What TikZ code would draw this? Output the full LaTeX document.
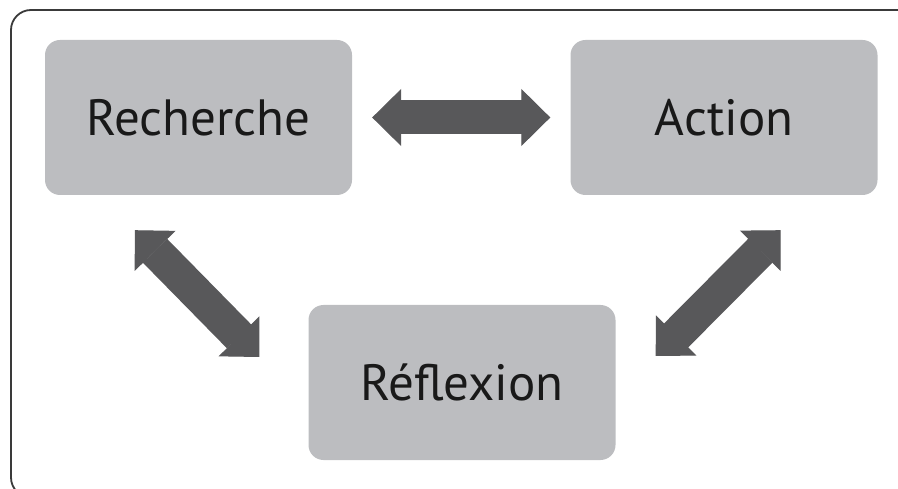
\documentclass[tikz,border=0pt]{standalone}
\usepackage{fontspec}
\setmainfont{PT Sans}
\usepackage{xcolor}
\usetikzlibrary{arrows.meta,calc}

\definecolor{boxgray}{HTML}{BCBDC0}
\definecolor{arrowgray}{HTML}{58585A}
\definecolor{framegray}{HTML}{3A3A3A}

\tikzset{
    stagebox/.style={fill=boxgray, rounded corners=15pt, minimum width=307pt,
        minimum height=155pt, inner sep=0pt, font=\fontsize{51}{60}\selectfont,
        text=black!90},
    bigarrow/.style={draw=arrowgray, line width=34pt,
        {Triangle[length=29pt,width=57pt,line width=1pt]}-{Triangle[length=29pt,width=57pt,line width=1pt]}}
}

\begin{document}
\begin{tikzpicture}[x=1pt,y=1pt]
    % page and frame
    \clip (0,0) rectangle (898,488);
    \draw[framegray, line width=1.8pt, rounded corners=20pt] (11,-9.5) rectangle (918,478);

    % stages
    \node[stagebox] (rech) at (198.5,370.5) {Recherche};
    \node[stagebox] (act) at (724,370.5) {Action};
    \node[stagebox] (refl) at (462,105.5) {Réflexion};

    % arrow ends
    \coordinate (la1) at ($(rech.south west)+(90,-35)$);
    \coordinate (la2) at ($(refl.west)+(-49,25.5)$);
    \coordinate (ra1) at ($(act.south east)+(-97,-35)$);
    \coordinate (ra2) at ($(refl.east)+(40,26.5)$);

    % arrows
    \draw[bigarrow, shorten <=20pt, shorten >=20pt] (rech) -- (act);
    \draw[bigarrow] (la1) -- (la2);
    \draw[bigarrow] (ra1) -- (ra2);
\end{tikzpicture}
\end{document}
